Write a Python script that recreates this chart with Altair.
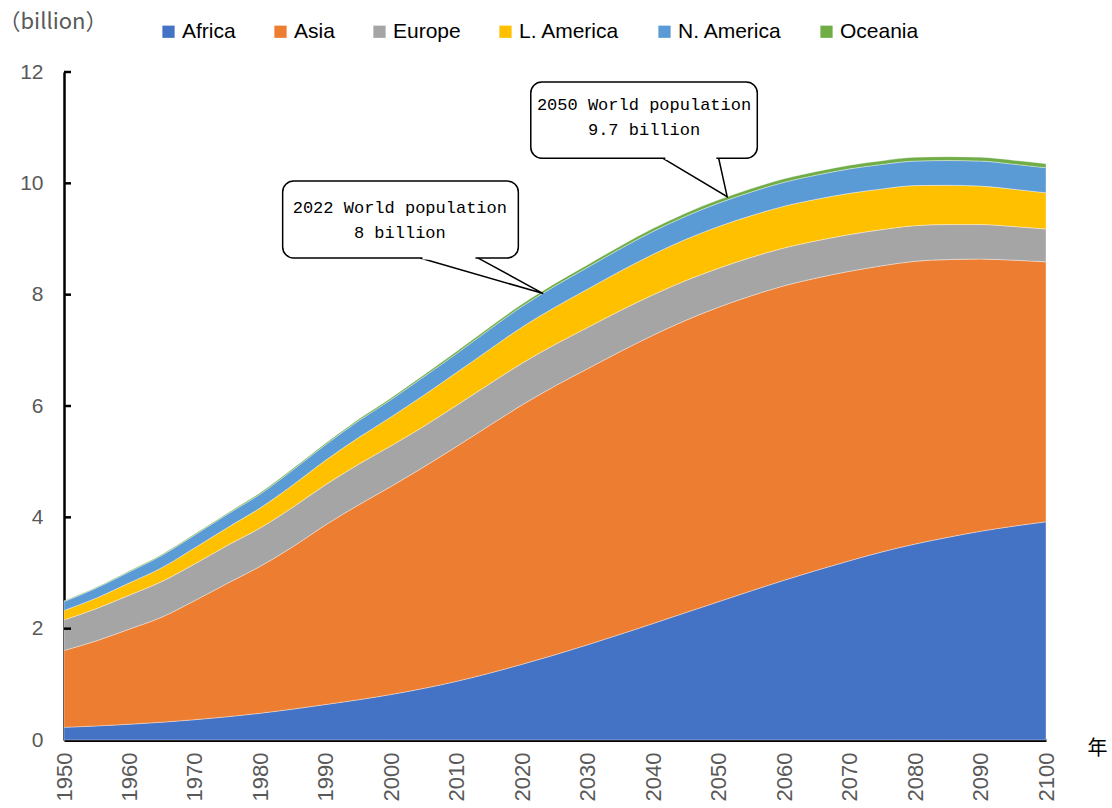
import altair as alt
import pandas as pd

years = list(range(1950, 2101, 5))
regions = ["Africa", "Asia", "Europe", "L. America", "N. America", "Oceania"]
colors = ["#4472C4", "#ED7D31", "#A5A5A5", "#FFC000", "#5B9BD5", "#70AD47"]

africa = [0.227, 0.253, 0.283, 0.320, 0.365, 0.418, 0.481, 0.555, 0.638, 0.723, 0.818, 0.928,
          1.055, 1.201, 1.361, 1.530, 1.711, 1.900, 2.093, 2.290, 2.485, 2.680, 2.870, 3.050,
          3.220, 3.380, 3.520, 3.640, 3.750, 3.840, 3.920]
asia = [1.38, 1.53, 1.71, 1.89, 2.14, 2.40, 2.64, 2.92, 3.23, 3.50, 3.74, 3.98, 4.22, 4.45,
        4.66, 4.83, 4.96, 5.08, 5.18, 5.25, 5.29, 5.30, 5.29, 5.25, 5.20, 5.14, 5.08, 4.99,
        4.89, 4.78, 4.67]
europe = [0.55, 0.58, 0.61, 0.64, 0.66, 0.68, 0.69, 0.71, 0.72, 0.73, 0.73, 0.73, 0.74, 0.745,
          0.75, 0.745, 0.74, 0.735, 0.725, 0.715, 0.70, 0.69, 0.68, 0.67, 0.66, 0.65, 0.64,
          0.63, 0.62, 0.605, 0.59]
latam = [0.17, 0.19, 0.22, 0.25, 0.29, 0.32, 0.36, 0.40, 0.44, 0.48, 0.52, 0.56, 0.59, 0.62,
         0.65, 0.67, 0.69, 0.71, 0.73, 0.74, 0.75, 0.75, 0.75, 0.745, 0.74, 0.73, 0.72, 0.705,
         0.69, 0.67, 0.65]
namerica = [0.16, 0.18, 0.20, 0.22, 0.23, 0.24, 0.25, 0.27, 0.28, 0.30, 0.31, 0.33, 0.34, 0.36,
            0.37, 0.38, 0.39, 0.40, 0.41, 0.415, 0.42, 0.425, 0.43, 0.435, 0.44, 0.44, 0.44,
            0.445, 0.45, 0.45, 0.45]
oceania = [0.013, 0.014, 0.016, 0.018, 0.020, 0.021, 0.023, 0.025, 0.027, 0.029, 0.031, 0.034,
           0.037, 0.040, 0.043, 0.046, 0.048, 0.051, 0.053, 0.056, 0.058, 0.060, 0.062, 0.064,
           0.065, 0.067, 0.068, 0.069, 0.070, 0.071, 0.072]

x_ticks = list(range(1950, 2101, 10))
y_ticks = [2, 4, 6, 8, 10, 12]

# callout annotations (data coordinates: year, billion)
box_x1 = [1983.4, 2021.3]
box_x2 = [2019.4, 2055.9]
box_y1 = [8.66, 10.45]
box_y2 = [10.04, 11.82]
tail_base1 = [2004.4, 2041.5]
tail_base2 = [2013.2, 2050.0]
tail_tip_x = [2023.2, 2051.3]
tail_tip_y = [8.02, 9.76]
text_x = [2001.3, 2038.6]
line1 = ["2022 World population", "2050 World population"]
line2 = ["8 billion", "9.7 billion"]
line1_y = [9.55, 11.40]
line2_y = [9.10, 10.95]

series = [africa, asia, europe, latam, namerica, oceania]
rows = []
for k, (r, vals) in enumerate(zip(regions, series)):
    for i, yv in enumerate(years):
        rows.append({"year": yv, "region": r, "pop": vals[i], "ord": k})
df = pd.DataFrame(rows)

x_scale = alt.Scale(domain=[1950, 2100], nice=False, zero=False)
y_scale = alt.Scale(domain=[0, 12], nice=False)
x_axis = alt.Axis(values=x_ticks, format="d", labelAngle=-90, labelFontSize=22,
                  labelFont="Liberation Sans", labelColor="#595959", labelPadding=12,
                  tickSize=0, domainColor="black", domainWidth=3, grid=False,
                  title="年", titleFont="Noto Sans CJK JP", titleFontSize=20,
                  titleFontWeight="normal", titleColor="black", titleX=1033, titleY=8,
                  titleAlign="center", titleBaseline="middle", titleAngle=0)
y_axis = alt.Axis(values=[0] + y_ticks, labelFontSize=21, labelFont="Liberation Sans",
                  labelColor="#595959", labelPadding=21, tickSize=0,
                  domainColor="black", domainWidth=2.5, grid=False,
                  title="（billion）", titleFont="Noto Sans CJK JP", titleFontSize=22,
                  titleFontWeight="normal", titleColor="#595959", titleAngle=0,
                  titleAlign="left", titleBaseline="middle", titleX=-66, titleY=-51)


def X(f):
    return alt.X(f, scale=x_scale, axis=x_axis)


def Y(f, **kw):
    return alt.Y(f, scale=y_scale, axis=y_axis, **kw)


areas = alt.Chart(df).mark_area(
    interpolate="monotone", stroke="white", strokeWidth=0.6, strokeOpacity=0.6
).encode(
    x=X("year:Q"),
    y=Y("pop:Q", stack="zero"),
    color=alt.Color("region:N", scale=alt.Scale(domain=regions, range=colors),
                    legend=alt.Legend(orient="none", legendX=94, legendY=-51,
                                      direction="horizontal", title=None, symbolType="square",
                                      symbolSize=150, symbolStrokeWidth=0, labelFontSize=21,
                                      labelFont="Liberation Sans", labelColor="black",
                                      columnPadding=34, labelOffset=3)),
    order=alt.Order("ord:Q", sort="ascending"),
)

tick_df = pd.DataFrame({"v": y_ticks})
yticks = alt.Chart(tick_df).mark_rule(color="black", strokeWidth=2.5).encode(
    y=Y("v:Q"), x=alt.value(0), x2=alt.value(7)
)

tail_rows = []
for i in range(2):
    tail_rows.append({"id": i, "o": 0, "tx": tail_base1[i], "ty": box_y1[i]})
    tail_rows.append({"id": i, "o": 1, "tx": tail_tip_x[i], "ty": tail_tip_y[i]})
    tail_rows.append({"id": i, "o": 2, "tx": tail_base2[i], "ty": box_y1[i]})
tail_df = pd.DataFrame(tail_rows)
tails = alt.Chart(tail_df).mark_line(color="black", strokeWidth=1.5).encode(
    x=X("tx:Q"), y=Y("ty:Q"), detail="id:N", order="o:Q"
)

box_df = pd.DataFrame({"x1": box_x1, "x2": box_x2, "y1": box_y1, "y2": box_y2,
                       "b1": tail_base1, "b2": tail_base2})
boxes = alt.Chart(box_df).mark_rect(fill="white", stroke="black", strokeWidth=1.5,
                                    cornerRadius=11).encode(
    x=X("x1:Q"), x2="x2:Q", y=Y("y1:Q"), y2="y2:Q"
)
cover = alt.Chart(box_df).transform_calculate(
    c1="datum.b1 + 0.35", c2="datum.b2 - 0.35"
).mark_rule(color="white", strokeWidth=3).encode(
    x=X("c1:Q"), x2="c2:Q", y=Y("y1:Q")
)

txt_df = pd.DataFrame({"x": text_x * 2, "y": line1_y + line2_y, "t": line1 + line2})
texts = alt.Chart(txt_df).mark_text(font="Liberation Mono", fontSize=17, color="black",
                                    align="center", baseline="middle").encode(
    x=X("x:Q"), y=Y("y:Q"), text="t:N"
)

chart = alt.layer(areas, yticks, tails, boxes, cover, texts).properties(
    width=982, height=668,
    padding={"left": 64, "top": 72, "right": 66, "bottom": 68},
    autosize=alt.AutoSizeParams(type="none"),
).configure_view(stroke=None)

chart.save("out.html", embed_options={"renderer": "svg", "actions": False})
